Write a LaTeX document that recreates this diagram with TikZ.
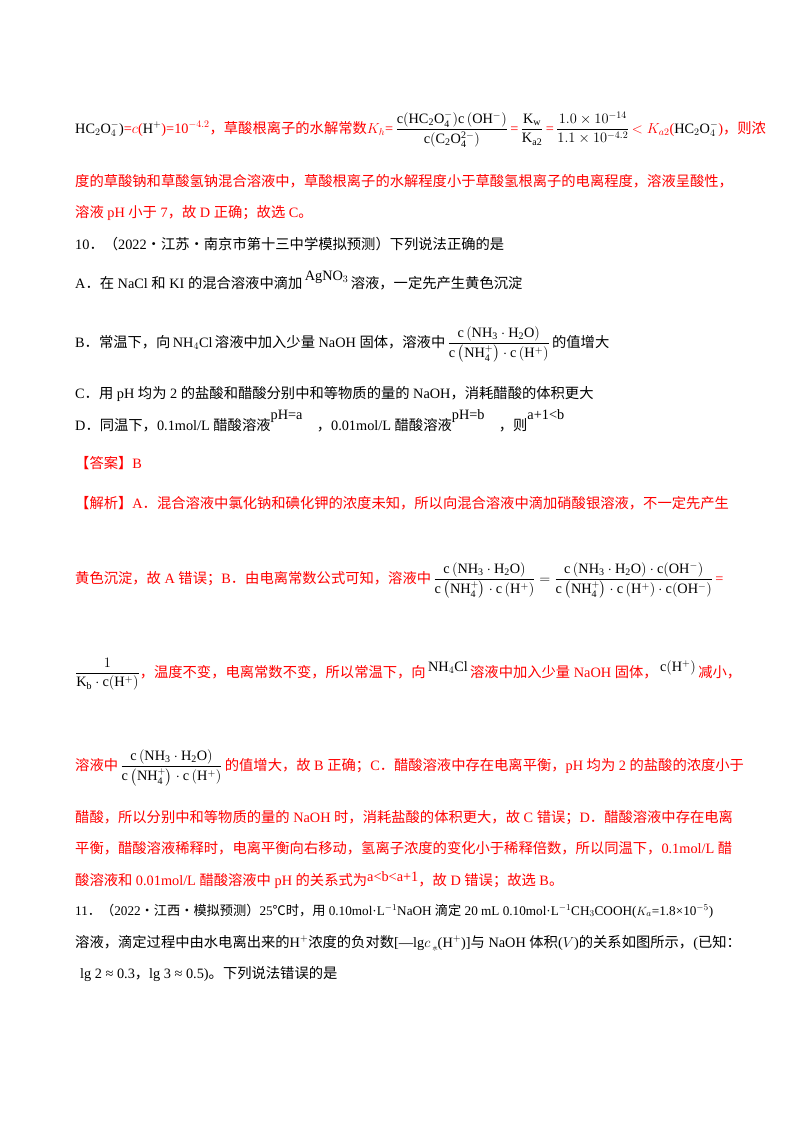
\documentclass[tikz,border=0pt]{standalone}
\usepackage{amsmath}
\usepackage{fontspec}
\setmainfont{Liberation Serif}
\newfontfamily\cjkf{Noto Sans CJK SC}
\newcommand{\zh}[1]{{\cjkf #1}}
\definecolor{ans}{RGB}{255,0,0}
\newcommand{\rd}[1]{{\color{ans}#1}}
\newcommand{\bk}[1]{{\color{black}#1}}
\newcommand{\fracB}{\dfrac{\mathrm{c\left(NH_3\cdot H_2O\right)}}{\mathrm{c\left(NH_4^+\right)\cdot c\left(H^+\right)}}}
\begin{document}
\begin{tikzpicture}[x=1pt,y=-1pt]
\tikzset{ln/.style={anchor=base west,inner sep=0pt,font=\fontsize{14.3}{16}\selectfont},
  rl/.style={ln,text=ans}}
\useasboundingbox[fill=white] (0,0) rectangle (800,1132);
\node[ln] (l1) at (75,133) {HC$_2$O$_4^-$)\rd{=$c$(}H$^+$\rd{)=10$^{-4.2}$\zh{，草酸根离子的水解常数}$K_h$=}\,$\dfrac{\mathrm{c(HC_2O_4^-)c\left(OH^-\right)}}{\mathrm{c(C_2O_4^{2-})}}$\,\rd{=}\,$\dfrac{\mathrm{K_w}}{\mathrm{K_{a2}}}$\,\rd{=}\,$\dfrac{1.0\times10^{-14}}{1.1\times10^{-4.2}}$\,\rd{$<K_{a2}$(}HC$_2$O$_4^-$\rd{)\zh{，则浓}}};
\node[rl] (l2) at (75,186) {\zh{度的草酸钠和草酸氢钠混合溶液中，草酸根离子的水解程度小于草酸氢根离子的电离程度，溶液呈酸性，}};
\node[rl] (l3) at (75,217) {\zh{溶液} pH \zh{小于} 7\zh{，故} D \zh{正确；故选} C\zh{。}};
\node[ln] (q10) at (75,249) {10\zh{．（}2022\zh{·江苏·南京市第十三中学模拟预测）下列说法正确的是}};
\node[ln] (qa) at (75,288) {A\zh{．在} NaCl \zh{和} KI \zh{的混合溶液中滴加}\,\raisebox{1.2ex}{AgNO$_3$}\,\zh{溶液，一定先产生黄色沉淀}};
\node[ln] (qb) at (75,347) {B\zh{．常温下，向}\,NH$_4$Cl\,\zh{溶液中加入少量} NaOH \zh{固体，溶液中}\,$\fracB$\,\zh{的值增大}};
\node[ln] (qc) at (75,398) {C\zh{．用} pH \zh{均为} 2 \zh{的盐酸和醋酸分别中和等物质的量的} NaOH\zh{，消耗醋酸的体积更大}};
\node[ln] (qd) at (75,430) {D\zh{．同温下，}0.1mol/L \zh{醋酸溶液}\raisebox{1.6ex}{pH=a}\quad\zh{，}0.01mol/L \zh{醋酸溶液}\raisebox{1.6ex}{pH=b}\quad\zh{，则}\raisebox{1.6ex}{a+1<b}};
\node[rl] (da) at (75,468) {\zh{【答案】}B};
\node[rl] (j1) at (75,508) {\zh{【解析】}A\zh{．混合溶液中氯化钠和碘化钾的浓度未知，所以向混合溶液中滴加硝酸银溶液，不一定先产生}};
\node[rl] (j2) at (75,583) {\zh{黄色沉淀，故} A \zh{错误；}B\zh{．由电离常数公式可知，溶液中}\,\bk{$\fracB=\dfrac{\mathrm{c\left(NH_3\cdot H_2O\right)\cdot c(OH^-)}}{\mathrm{c\left(NH_4^+\right)\cdot c\left(H^+\right)\cdot c(OH^-)}}$}\,=};
\node[rl] (j3) at (75,677) {\bk{$\dfrac{1}{\mathrm{K_b\cdot c(H^+)}}$}\zh{，温度不变，电离常数不变，所以常温下，向}\,\bk{\raisebox{0.8ex}{NH$_4$Cl}}\,\zh{溶液中加入少量} NaOH \zh{固体，}\,\bk{\raisebox{0.8ex}{c$\left(\mathrm{H^+}\right)$}}\,\zh{减小，}};
\node[rl] (j4) at (75,770) {\zh{溶液中}\,\bk{$\fracB$}\,\zh{的值增大，故} B \zh{正确；}C\zh{．醋酸溶液中存在电离平衡，}pH \zh{均为} 2 \zh{的盐酸的浓度小于}};
\node[rl] (j5) at (75,822) {\zh{醋酸，所以分别中和等物质的量的} NaOH \zh{时，消耗盐酸的体积更大，故} C \zh{错误；}D\zh{．醋酸溶液中存在电离}};
\node[rl] (j6) at (75,853) {\zh{平衡，醋酸溶液稀释时，电离平衡向右移动，氢离子浓度的变化小于稀释倍数，所以同温下，}0.1mol/L \zh{醋}};
\node[rl] (j7) at (75,885) {\zh{酸溶液和} 0.01mol/L \zh{醋酸溶液中} pH \zh{的关系式为}\raisebox{0.5ex}{a<b<a+1}\zh{，故} D \zh{错误；故选} B\zh{。}};
\node[ln,font=\fontsize{13.2}{16}\selectfont] (q11) at (75,915) {11\zh{．（}2022\zh{·江西·模拟预测）}25\zh{℃时，用} 0.10mol·L$^{-1}$NaOH \zh{滴定} 20 mL 0.10mol·L$^{-1}$CH$_3$COOH($K_a$=1.8×10$^{-5}$)};
\node[ln] (q11b) at (75,947) {\zh{溶液，滴定过程中由水电离出来的}H$^+$\zh{浓度的负对数}[—lg$c$\,\raisebox{-0.5ex}{\tiny\zh{水}}(H$^+$)]\zh{与} NaOH \zh{体积}($V$)\zh{的关系如图所示，}(\zh{已知：}};
\node[ln] (q11c) at (80,978) {lg 2 ≈ 0.3\zh{，}lg 3 ≈ 0.5)\zh{。下列说法错误的是}};
\end{tikzpicture}
\end{document}
